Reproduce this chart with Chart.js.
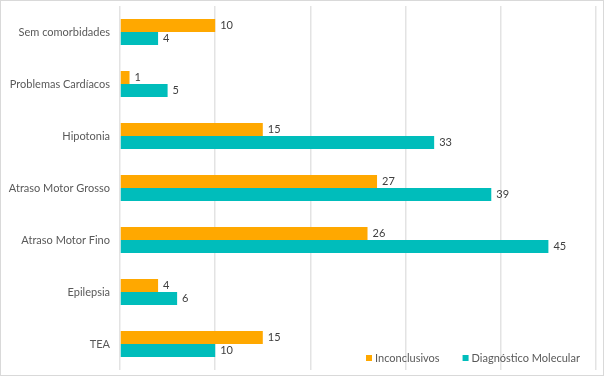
<!DOCTYPE html>
<html>
<head>
<meta charset="utf-8">
<script src="https://cdn.jsdelivr.net/npm/chart.js@4/dist/chart.umd.min.js"></script>
<style>
  html, body { margin: 0; padding: 0; background: #fff; }
  #wrap { position: relative; width: 602px; height: 374px; border: 1px solid #d9d9d9; }
  canvas { display: block; }
</style>
</head>
<body>
<div id="wrap"><canvas id="chart" width="602" height="374"></canvas></div>
<script>
const categories = [
  "Sem comorbidades",
  "Problemas Cardíacos",
  "Hipotonia",
  "Atraso Motor Grosso",
  "Atraso Motor Fino",
  "Epilepsia",
  "TEA",
];
const inconclusivos = [10, 1, 15, 27, 26, 4, 15];
const diagnosticoMolecular = [4, 5, 33, 39, 45, 6, 10];
const seriesNames = ["Inconclusivos", "Diagnóstico Molecular"];
const seriesColors = ["#FFA800", "#00BDBB"];

const FONT = "Lato, 'Noto Sans', sans-serif";

// value labels at the end of each bar
const valueLabels = {
  id: "valueLabels",
  afterDatasetsDraw(chart) {
    const ctx = chart.ctx;
    ctx.save();
    ctx.font = "11px " + FONT;
    ctx.fillStyle = "#404040";
    ctx.textBaseline = "middle";
    ctx.textAlign = "left";
    chart.data.datasets.forEach((ds, i) => {
      chart.getDatasetMeta(i).data.forEach((bar, j) => {
        ctx.fillText(ds.data[j], bar.x + 5, bar.y);
      });
    });
    ctx.restore();
  },
};

// legend drawn inside the plot area, bottom right
const innerLegend = {
  id: "innerLegend",
  afterDraw(chart) {
    const ctx = chart.ctx;
    const area = chart.chartArea;
    ctx.save();
    ctx.font = "11px " + FONT;
    ctx.textBaseline = "middle";
    let x = area.right - 230;
    const y = area.bottom - 12;
    chart.data.datasets.forEach((ds) => {
      ctx.fillStyle = ds.backgroundColor;
      ctx.fillRect(x, y - 3, 6, 6);
      ctx.fillStyle = "#595959";
      ctx.fillText(ds.label, x + 9, y);
      x += ctx.measureText(ds.label).width + 32;
    });
    ctx.restore();
  },
};

new Chart(document.getElementById("chart"), {
  type: "bar",
  data: {
    labels: categories,
    datasets: [
      { label: seriesNames[0], data: inconclusivos, backgroundColor: seriesColors[0] },
      { label: seriesNames[1], data: diagnosticoMolecular, backgroundColor: seriesColors[1] },
    ],
  },
  options: {
    indexAxis: "y",
    responsive: false,
    animation: false,
    layout: { padding: { left: 0, right: 7, top: 5, bottom: 5 } },
    datasets: { bar: { categoryPercentage: 0.5, barPercentage: 1 } },
    plugins: {
      legend: { display: false },
      tooltip: { enabled: false },
    },
    scales: {
      x: {
        min: 0,
        max: 50,
        ticks: { stepSize: 10, display: false },
        grid: { color: "#e3e3e3", lineWidth: 1.5, drawTicks: false },
        border: { display: false },
        afterFit: (scale) => { scale.height = 0; },
      },
      y: {
        afterFit: (scale) => {
          scale.width = 119;
          scale.paddingTop = 0;
          scale.paddingBottom = 0;
        },
        ticks: { color: "#595959", font: { family: FONT, size: 11 }, padding: 10 },
        grid: { display: false, drawTicks: false },
        border: { display: false },
      },
    },
  },
  plugins: [valueLabels, innerLegend],
});
</script>
</body>
</html>
